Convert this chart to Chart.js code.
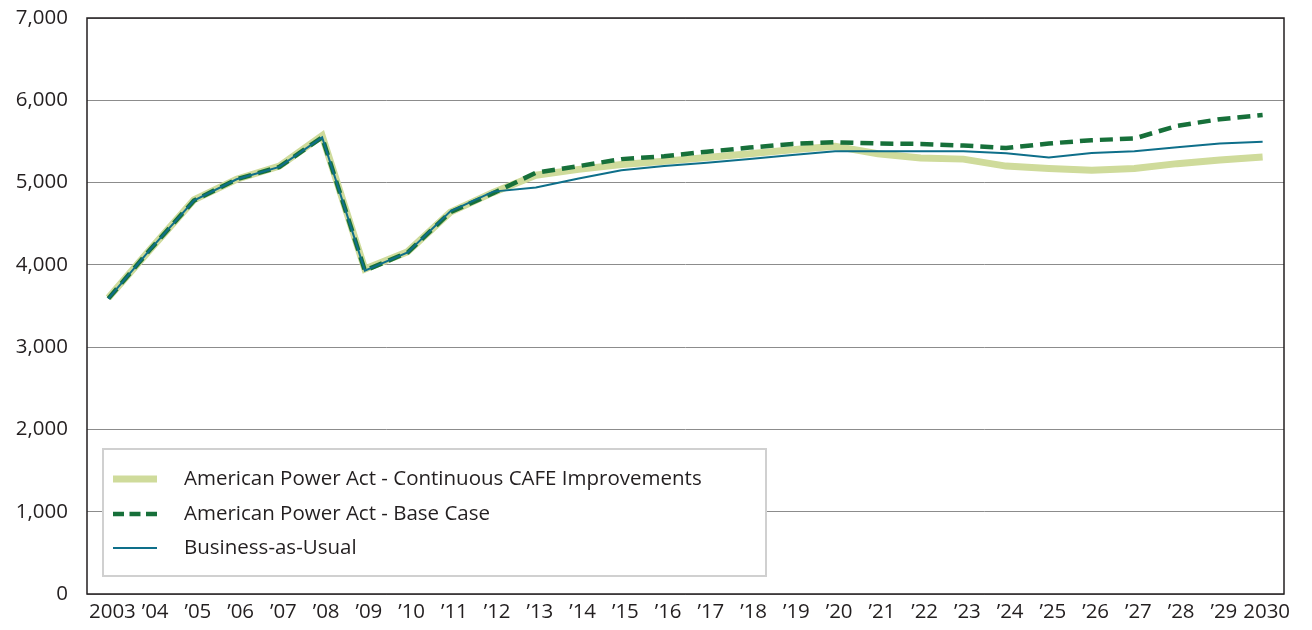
<!DOCTYPE html>
<html>
<head>
<meta charset="utf-8">
<script src="https://cdn.jsdelivr.net/npm/chart.js@4.4.1/dist/chart.umd.min.js"></script>
<style>
  html, body { margin: 0; padding: 0; background: #fff; }
  #wrap { width: 1312px; height: 630px; position: relative; }
</style>
</head>
<body>
<div id="wrap"><canvas id="emissionsChart" width="1312" height="630"></canvas></div>
<script>
// years on the x axis
const years = ['2003', '’04', '’05', '’06', '’07', '’08', '’09', '’10', '’11', '’12', '’13', '’14', '’15', '’16',
  '’17', '’18', '’19', '’20', '’21', '’22', '’23', '’24', '’25', '’26', '’27', '’28', '’29', '2030'];

const yTicks = [0, 1000, 2000, 3000, 4000, 5000, 6000, 7000];

const continuousCafe = [3600, 4200, 4790, 5040, 5200, 5570, 3950, 4160, 4640, 4880, 5090, 5160, 5220, 5260,
  5305, 5350, 5400, 5440, 5350, 5300, 5285, 5200, 5170, 5150, 5170, 5230, 5275, 5310];

const baseCase = [3590, 4200, 4780, 5040, 5190, 5550, 3930, 4150, 4640, 4870, 5120, 5200, 5285, 5320,
  5375, 5425, 5470, 5490, 5475, 5470, 5450, 5420, 5475, 5515, 5535, 5690, 5770, 5820];

const businessAsUsual = [3590, 4200, 4780, 5040, 5190, 5550, 3930, 4150, 4650, 4890, 4940, 5050, 5150, 5200,
  5240, 5285, 5335, 5380, 5380, 5380, 5380, 5355, 5305, 5360, 5380, 5430, 5475, 5495];

const FONT = "'Open Sans', sans-serif";
const FONT_SIZE = 20.5;

// black frame round the plot area
const framePlugin = {
  id: 'frame',
  beforeDatasetsDraw(chart) {
    const { ctx, chartArea: a } = chart;
    ctx.save();
    ctx.strokeStyle = '#231f20';
    ctx.lineWidth = 1.5;
    ctx.strokeRect(a.left, a.top, a.right - a.left, a.bottom - a.top);
    ctx.restore();
  }
};

// boxed legend sitting inside the plot, bottom left
const boxLegendPlugin = {
  id: 'boxLegend',
  afterDatasetsDraw(chart) {
    const { ctx, chartArea: a } = chart;
    const x = a.left + 16, y = a.bottom - 145, w = 663, h = 127;
    ctx.save();
    ctx.fillStyle = '#fff';
    ctx.fillRect(x, y, w, h);
    ctx.strokeStyle = '#d0d0d0';
    ctx.lineWidth = 2;
    ctx.strokeRect(x, y, w, h);

    const rows = [30, 65, 99];
    chart.data.datasets.forEach((ds, i) => {
      const ly = y + rows[i];
      ctx.beginPath();
      ctx.strokeStyle = ds.borderColor;
      ctx.lineWidth = ds.borderWidth;
      // shorter dashes in the key, three of them fit the sample
      ctx.setLineDash(ds.borderDash ? [11, 5.5] : []);
      ctx.moveTo(x + 10, ly);
      ctx.lineTo(x + 54, ly);
      ctx.stroke();
      ctx.setLineDash([]);
      ctx.fillStyle = '#231f20';
      ctx.font = FONT_SIZE + 'px ' + FONT;
      ctx.textBaseline = 'middle';
      ctx.fillText(ds.label, x + 81, ly);
    });
    ctx.restore();
  }
};

new Chart(document.getElementById('emissionsChart'), {
  type: 'line',
  data: {
    labels: years,
    datasets: [{
      label: 'American Power Act - Continuous CAFE Improvements',
      data: continuousCafe,
      borderColor: '#cfdb9b',
      borderWidth: 7,
      order: 3
    }, {
      label: 'American Power Act - Base Case',
      data: baseCase,
      borderColor: '#17703a',
      borderWidth: 4.5,
      borderDash: [13, 7],
      order: 2
    }, {
      label: 'Business-as-Usual',
      data: businessAsUsual,
      borderColor: '#0e6f8a',
      borderWidth: 2,
      order: 1
    }]
  },
  options: {
    responsive: false,
    animation: false,
    devicePixelRatio: 1,
    layout: { padding: { top: 18, right: 28, left: 0, bottom: 0 } },
    elements: {
      point: { radius: 0 },
      line: { tension: 0, borderCapStyle: 'butt', borderJoinStyle: 'miter' }
    },
    plugins: {
      legend: { display: false },
      tooltip: { enabled: false }
    },
    scales: {
      x: {
        offset: true,
        grid: { display: false, drawTicks: false },
        border: { display: false },
        ticks: {
          color: '#231f20',
          font: { family: FONT, size: FONT_SIZE },
          padding: 6,
          labelOffset: 4,
          maxRotation: 0,
          autoSkip: false
        },
        afterFit(scale) {
          scale.height = 36;
          scale.paddingLeft = 0;
          scale.paddingRight = 0;
        }
      },
      y: {
        min: yTicks[0],
        max: yTicks[yTicks.length - 1],
        afterBuildTicks(scale) { scale.ticks = yTicks.map(v => ({ value: v })); },
        grid: { color: '#8c8c8c', lineWidth: 1, drawTicks: false },
        border: { display: false },
        ticks: {
          color: '#231f20',
          font: { family: FONT, size: FONT_SIZE },
          padding: 19,
          callback: v => v.toLocaleString('en-US')
        },
        afterFit(scale) {
          scale.width = 87;
          scale.paddingTop = 0;
          scale.paddingBottom = 0;
        }
      }
    }
  },
  plugins: [framePlugin, boxLegendPlugin]
});
</script>
</body>
</html>
